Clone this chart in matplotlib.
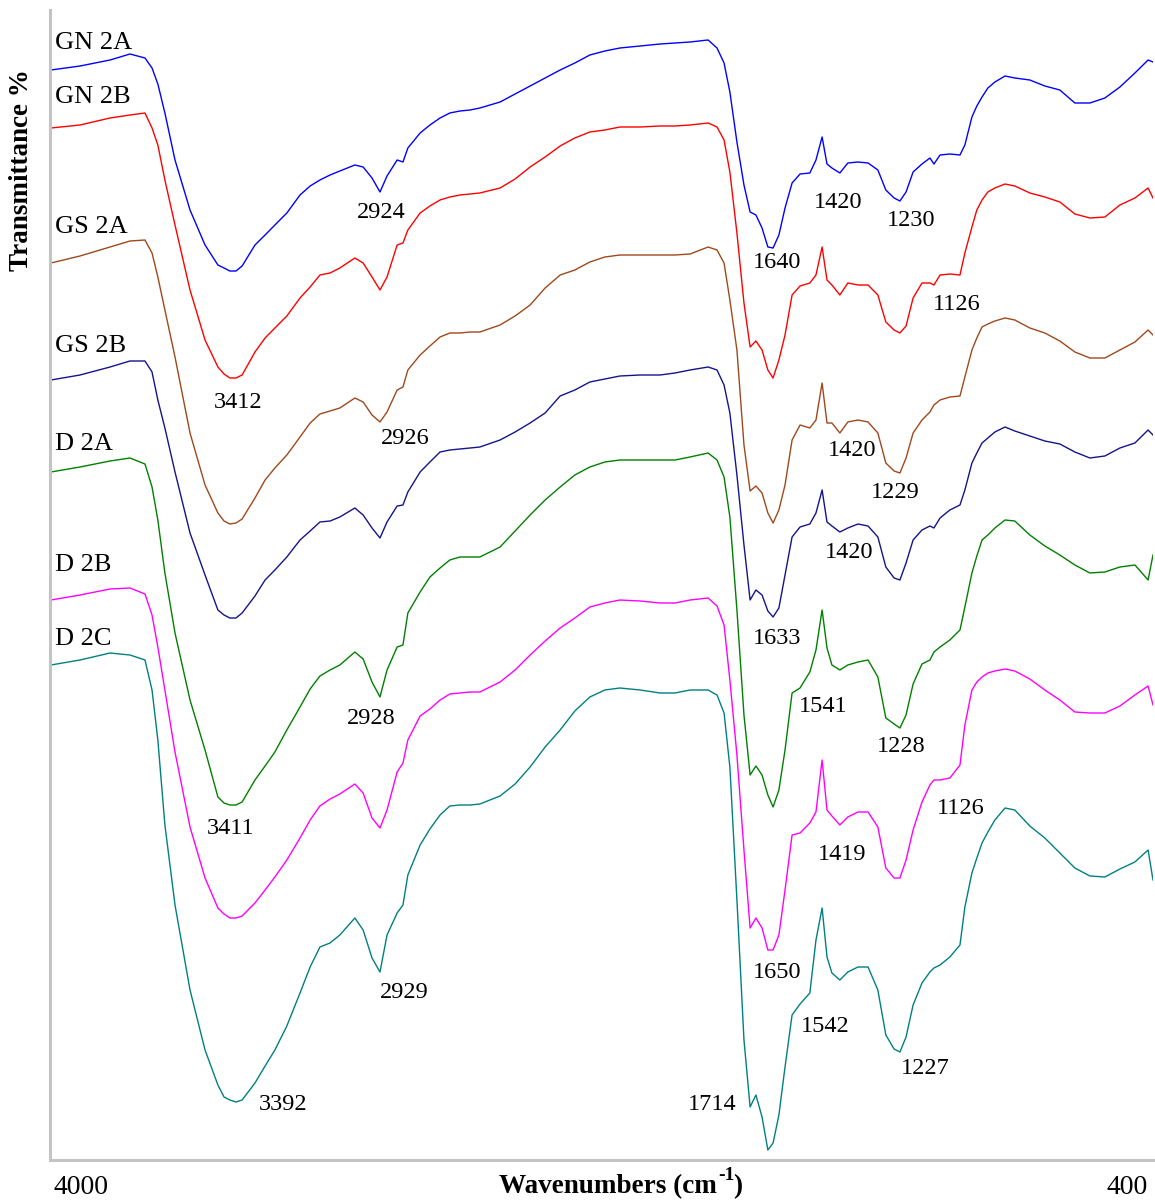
import matplotlib
matplotlib.use("Agg")
import matplotlib.pyplot as plt

plt.rcParams['font.family'] = ['Liberation Serif', 'DejaVu Serif']

# Wavenumber grid (cm-1) shared by all spectra
wavenumbers = [3997, 3902, 3804, 3739, 3690, 3667, 3648, 3625, 3592, 3543, 3494, 3452,
               3432, 3413, 3393, 3373, 3331, 3298, 3266, 3227, 3184, 3151, 3119, 3086,
               3054, 3005, 2978, 2949, 2923, 2900, 2867, 2848, 2832, 2792, 2760, 2727,
               2695, 2662, 2629, 2597, 2531, 2482, 2433, 2384, 2335, 2287, 2238, 2189,
               2140, 2074, 2009, 1960, 1911, 1852, 1823, 1800, 1781, 1758, 1735, 1715,
               1696, 1676, 1657, 1640, 1621, 1601, 1578, 1552, 1520, 1500, 1480, 1464,
               1448, 1422, 1396, 1363, 1330, 1298, 1272, 1245, 1226, 1206, 1183, 1154,
               1128, 1115, 1095, 1063, 1030, 1014, 991, 975, 958, 939, 916, 883,
               851, 802, 753, 704, 655, 606, 557, 508, 459, 416, 400]

# Stacked transmittance traces (arbitrary offset units)
gn_2a = [1090, 1094, 1100, 1106, 1102, 1092, 1076, 1047, 1000, 950, 915, 895,
         892, 889, 889, 894, 915, 925, 935, 947, 965, 974, 980, 985,
         989, 995, 993, 982, 968, 984, 1000, 998, 1012, 1027, 1035, 1042,
         1047, 1049, 1050, 1052, 1058, 1066, 1074, 1082, 1090, 1097, 1105, 1109,
         1112, 1114, 1116, 1117, 1118, 1120, 1112, 1097, 1068, 1018, 975, 948,
         945, 932, 913, 912, 925, 952, 977, 986, 987, 1000, 1023, 996,
         992, 987, 997, 998, 997, 990, 970, 962, 959, 968, 988, 996,
         1002, 996, 1005, 1006, 1005, 1015, 1043, 1054, 1063, 1072, 1078, 1084,
         1082, 1080, 1074, 1070, 1057, 1057, 1062, 1073, 1087, 1100, 1098]
gn_2b = [1032, 1035, 1042, 1045, 1047, 1032, 1015, 980, 935, 870, 820, 793,
         786, 782, 782, 785, 808, 822, 832, 844, 862, 873, 885, 887,
         892, 902, 897, 883, 870, 883, 915, 917, 930, 947, 954, 960,
         963, 965, 966, 967, 972, 981, 993, 1003, 1014, 1022, 1028, 1030,
         1033, 1033, 1034, 1034, 1035, 1037, 1033, 1020, 988, 927, 857, 813,
         819, 810, 790, 782, 800, 825, 865, 874, 877, 885, 913, 880,
         875, 865, 877, 875, 875, 865, 838, 830, 827, 834, 862, 877,
         877, 875, 885, 886, 885, 907, 933, 950, 960, 968, 972, 976,
         974, 967, 963, 958, 946, 942, 943, 955, 962, 972, 962]
gs_2a = [897, 904, 913, 919, 920, 907, 883, 850, 803, 727, 675, 647,
         639, 636, 637, 641, 662, 680, 692, 705, 723, 737, 746, 749,
         752, 762, 758, 745, 738, 748, 770, 773, 790, 805, 814, 823,
         827, 827, 828, 828, 835, 844, 855, 872, 885, 890, 898, 903,
         905, 905, 905, 905, 906, 913, 910, 897, 860, 810, 715, 669,
         674, 667, 647, 637, 650, 675, 720, 735, 732, 740, 777, 737,
         737, 727, 738, 740, 738, 727, 697, 689, 687, 702, 727, 740,
         748, 755, 760, 763, 764, 783, 810, 822, 833, 836, 839, 842,
         840, 832, 827, 819, 808, 802, 802, 810, 818, 830, 825]
gs_2b = [780, 785, 793, 799, 799, 788, 760, 732, 688, 627, 585, 550,
         545, 542, 542, 547, 564, 580, 590, 603, 620, 629, 638, 639,
         643, 652, 645, 632, 622, 638, 654, 655, 668, 688, 698, 708,
         710, 711, 712, 713, 720, 728, 737, 747, 764, 770, 778, 781,
         784, 785, 785, 787, 790, 793, 790, 775, 747, 685, 615, 560,
         570, 565, 549, 543, 552, 585, 623, 633, 636, 647, 670, 638,
         634, 628, 632, 636, 634, 623, 593, 582, 580, 597, 620, 630,
         634, 632, 642, 650, 655, 670, 697, 707, 717, 722, 728, 733,
         729, 724, 719, 716, 708, 702, 704, 712, 717, 730, 725]
d_2a = [688, 693, 699, 702, 696, 673, 640, 587, 527, 460, 410, 363,
        357, 355, 355, 358, 380, 394, 408, 430, 453, 471, 484, 490,
        495, 508, 501, 478, 463, 490, 513, 515, 547, 568, 583, 592,
        600, 603, 603, 603, 613, 629, 645, 660, 673, 685, 693, 698,
        700, 700, 700, 700, 703, 707, 700, 683, 643, 550, 445, 385,
        394, 385, 365, 353, 370, 410, 467, 472, 488, 510, 550, 512,
        495, 490, 495, 498, 500, 483, 442, 436, 432, 445, 476, 496,
        500, 508, 513, 520, 530, 553, 587, 604, 620, 625, 632, 640,
        639, 625, 614, 605, 595, 587, 588, 593, 595, 580, 605]
d_2b = [560, 565, 571, 572, 566, 545, 513, 470, 408, 333, 282, 252,
        246, 242, 242, 244, 257, 270, 283, 300, 322, 340, 354, 361,
        366, 376, 367, 342, 332, 350, 388, 397, 420, 444, 451, 460,
        466, 467, 468, 468, 478, 490, 505, 519, 532, 542, 553, 557,
        560, 559, 557, 557, 560, 562, 554, 535, 480, 405, 310, 232,
        242, 232, 210, 210, 225, 270, 325, 327, 337, 348, 400, 350,
        344, 335, 343, 348, 348, 333, 292, 282, 282, 300, 330, 358,
        375, 380, 380, 382, 395, 435, 470, 478, 483, 487, 489, 491,
        489, 481, 470, 460, 448, 447, 447, 454, 465, 474, 455]
d_2c = [495, 500, 507, 505, 500, 470, 420, 335, 255, 170, 110, 75,
        63, 60, 58, 60, 77, 94, 110, 134, 167, 193, 213, 217,
        225, 242, 230, 202, 188, 225, 247, 255, 285, 315, 331, 345,
        354, 355, 355, 356, 364, 376, 393, 413, 430, 449, 463, 470,
        472, 470, 467, 467, 470, 470, 465, 447, 393, 260, 120, 53,
        65, 43, 10, 17, 45, 93, 145, 156, 167, 220, 252, 203,
        187, 180, 188, 193, 193, 170, 125, 111, 108, 123, 155, 177,
        188, 192, 195, 203, 215, 253, 287, 302, 317, 328, 340, 352,
        350, 334, 322, 307, 292, 284, 283, 291, 298, 310, 280]

series_names = ["GN 2A", "GN 2B", "GS 2A", "GS 2B", "D 2A", "D 2B", "D 2C"]
series_values = [gn_2a, gn_2b, gs_2a, gs_2b, d_2a, d_2b, d_2c]
series_colors = ["#0000ff", "#ff0000", "#a0481c", "#14148c", "#008000", "#ff00ff", "#008080"]
name_pos_y = [1117, 1063, 933, 814, 716, 595, 521]

# Peak annotations: (text, wavenumber, height)
peak_labels = ["2924", "3412", "1640", "1420", "1230", "1126", "2926", "1420", "1229",
               "1420", "1633", "2928", "1541", "1228", "3411", "1126", "1419", "1650",
               "2929", "1542", "1227", "3392", "1714"]
peak_wn = [2920, 3386, 1627, 1428, 1190, 1040, 2841, 1382, 1242, 1392, 1627, 2952,
           1477, 1223, 3409, 1027, 1415, 1627, 2845, 1471, 1144, 3240, 1839]
peak_h = [947, 757, 898, 958, 939, 855, 722, 709, 667, 608, 522, 442, 454, 413,
          332, 351, 306, 188, 168, 133, 91, 56, 56]

W, H = 1155, 1203
fig = plt.figure(figsize=(W / 100, H / 100), dpi=100)
ax = fig.add_axes([50 / W, (H - 1160) / H, 1103 / W, 1150 / H])

for vals, col in zip(series_values, series_colors):
    ax.plot(wavenumbers, vals, color=col, lw=1.0)

for name, yy in zip(series_names, name_pos_y):
    ax.text(3984, yy, name, fontsize=19, ha='left', va='center', color='black')

for t, wn, hh in zip(peak_labels, peak_wn, peak_h):
    ax.text(wn, hh, t, fontsize=17.5, ha='center', va='center', color='black')

ax.set_xlim(4000, 400)
ax.set_ylim(0, 1150)
ax.set_xticks([])
ax.set_yticks([])
for s in ['top', 'right']:
    ax.spines[s].set_visible(False)
for s in ['left', 'bottom']:
    ax.spines[s].set_color('#c4c4c4')
    ax.spines[s].set_linewidth(2.2)

fig.text(81 / W, 1 - 1188 / H, "4000", fontsize=20, ha='center', va='center')
fig.text(1127 / W, 1 - 1187 / H, "400", fontsize=20, ha='center', va='center')
fig.text(717 / W, 1 - 1193 / H, "Wavenumbers (cm", fontsize=19.5, fontweight='bold',
         ha='right', va='baseline')
fig.text(718 / W, 1 - 1180 / H, "-1", fontsize=14, fontweight='bold',
         ha='left', va='baseline')
fig.text(733 / W, 1 - 1193 / H, ")", fontsize=19.5, fontweight='bold',
         ha='left', va='baseline')
fig.text(22 / W, 1 - 170 / H, "Transmittance %", fontsize=19.5, fontweight='bold',
         rotation=90, ha='center', va='center')

fig.savefig("out.png", dpi=100)
